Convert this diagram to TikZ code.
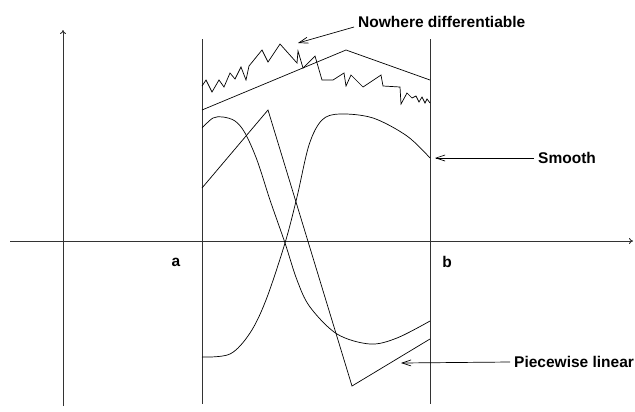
\documentclass[tikz,border=0pt]{standalone}
\usepackage{fontspec}
\setmainfont{Liberation Sans}
\usetikzlibrary{arrows.meta,positioning}

\begin{document}
\begin{tikzpicture}[
    x=1bp, y=-1bp,
    axis/.style={draw=black!80, line width=0.9bp, -{To[length=4bp,width=6bp]}},
    bound/.style={draw=black!80, line width=1bp},
    curve/.style={line width=0.7bp, line join=miter},
    tag/.style={font=\fontsize{15.5bp}{18bp}\selectfont\bfseries, inner sep=4bp},
    arrow/.style={-{Straight Barb[length=9bp,width=6bp]}, line width=0.7bp}
]
    \useasboundingbox (0,0) rectangle (635,411);

    % axes and the interval [a,b]
    \draw[axis] (10,241) -- (633,241);
    \draw[axis] (63,406) -- (63,30);
    \draw[bound] (202,39) -- (202,404);
    \draw[bound] (430,39) -- (430,404);
    \node[tag] (a) at (176,262) {a};
    \node[tag] (b) at (447,262) {b};

    % piecewise linear
    \draw[curve] (202,188) -- (268,110) -- (352,386) -- (430,339);
    \draw[curve] (202,110) -- (346,50) -- (430,80);

    % smooth
    \draw[curve] plot[smooth, tension=0.55] coordinates {(202,128) (213,118) (223,117) (235,121) (245,133) (257,160) (270,200) (285,243) (297,280) (310,307) (337,334) (370,344) (397,338) (430,321)};
    \draw[curve] plot[smooth, tension=0.55] coordinates {(202,357) (230,354) (250,333) (266,300) (285,243) (297,197) (309,145) (322,120) (340,114) (373,118) (407,136) (430,158)};

    % nowhere differentiable
    \draw[curve] (202,86) -- (206,80) -- (212,92) -- (219,80) -- (224,87) -- (230,73) -- (235,79) -- (241,67) -- (246,80) -- (249,66) -- (262,50) -- (268,62) -- (280,44) -- (297,63) -- (298,51) -- (303,68) -- (315,56) -- (322,80) -- (333,80) -- (344,73) -- (346,86) -- (351,75) -- (363,87) -- (381,75) -- (383,86) -- (400,87) -- (401,104) -- (407,93) -- (412,98) -- (416,96) -- (419,102) -- (422,97) -- (425,103) -- (427,99) -- (430,103);

    % labels
    \coordinate (ndpt) at (298,43);
    \coordinate (smpt) at (435,158);
    \coordinate (plpt) at (401,363);
    \node[tag, anchor=base west] (nowhere) at (354,27) {Nowhere differentiable};
    \node[tag, anchor=west] (smooth) at (534,158) {Smooth};
    \node[tag, anchor=west] (piecewise) at (510,362) {Piecewise linear};
    \draw[arrow] (nowhere.base west) -- (ndpt);
    \draw[arrow] (smooth.west) -- (smpt);
    \draw[arrow] (piecewise.west) -- (plpt);
\end{tikzpicture}
\end{document}
